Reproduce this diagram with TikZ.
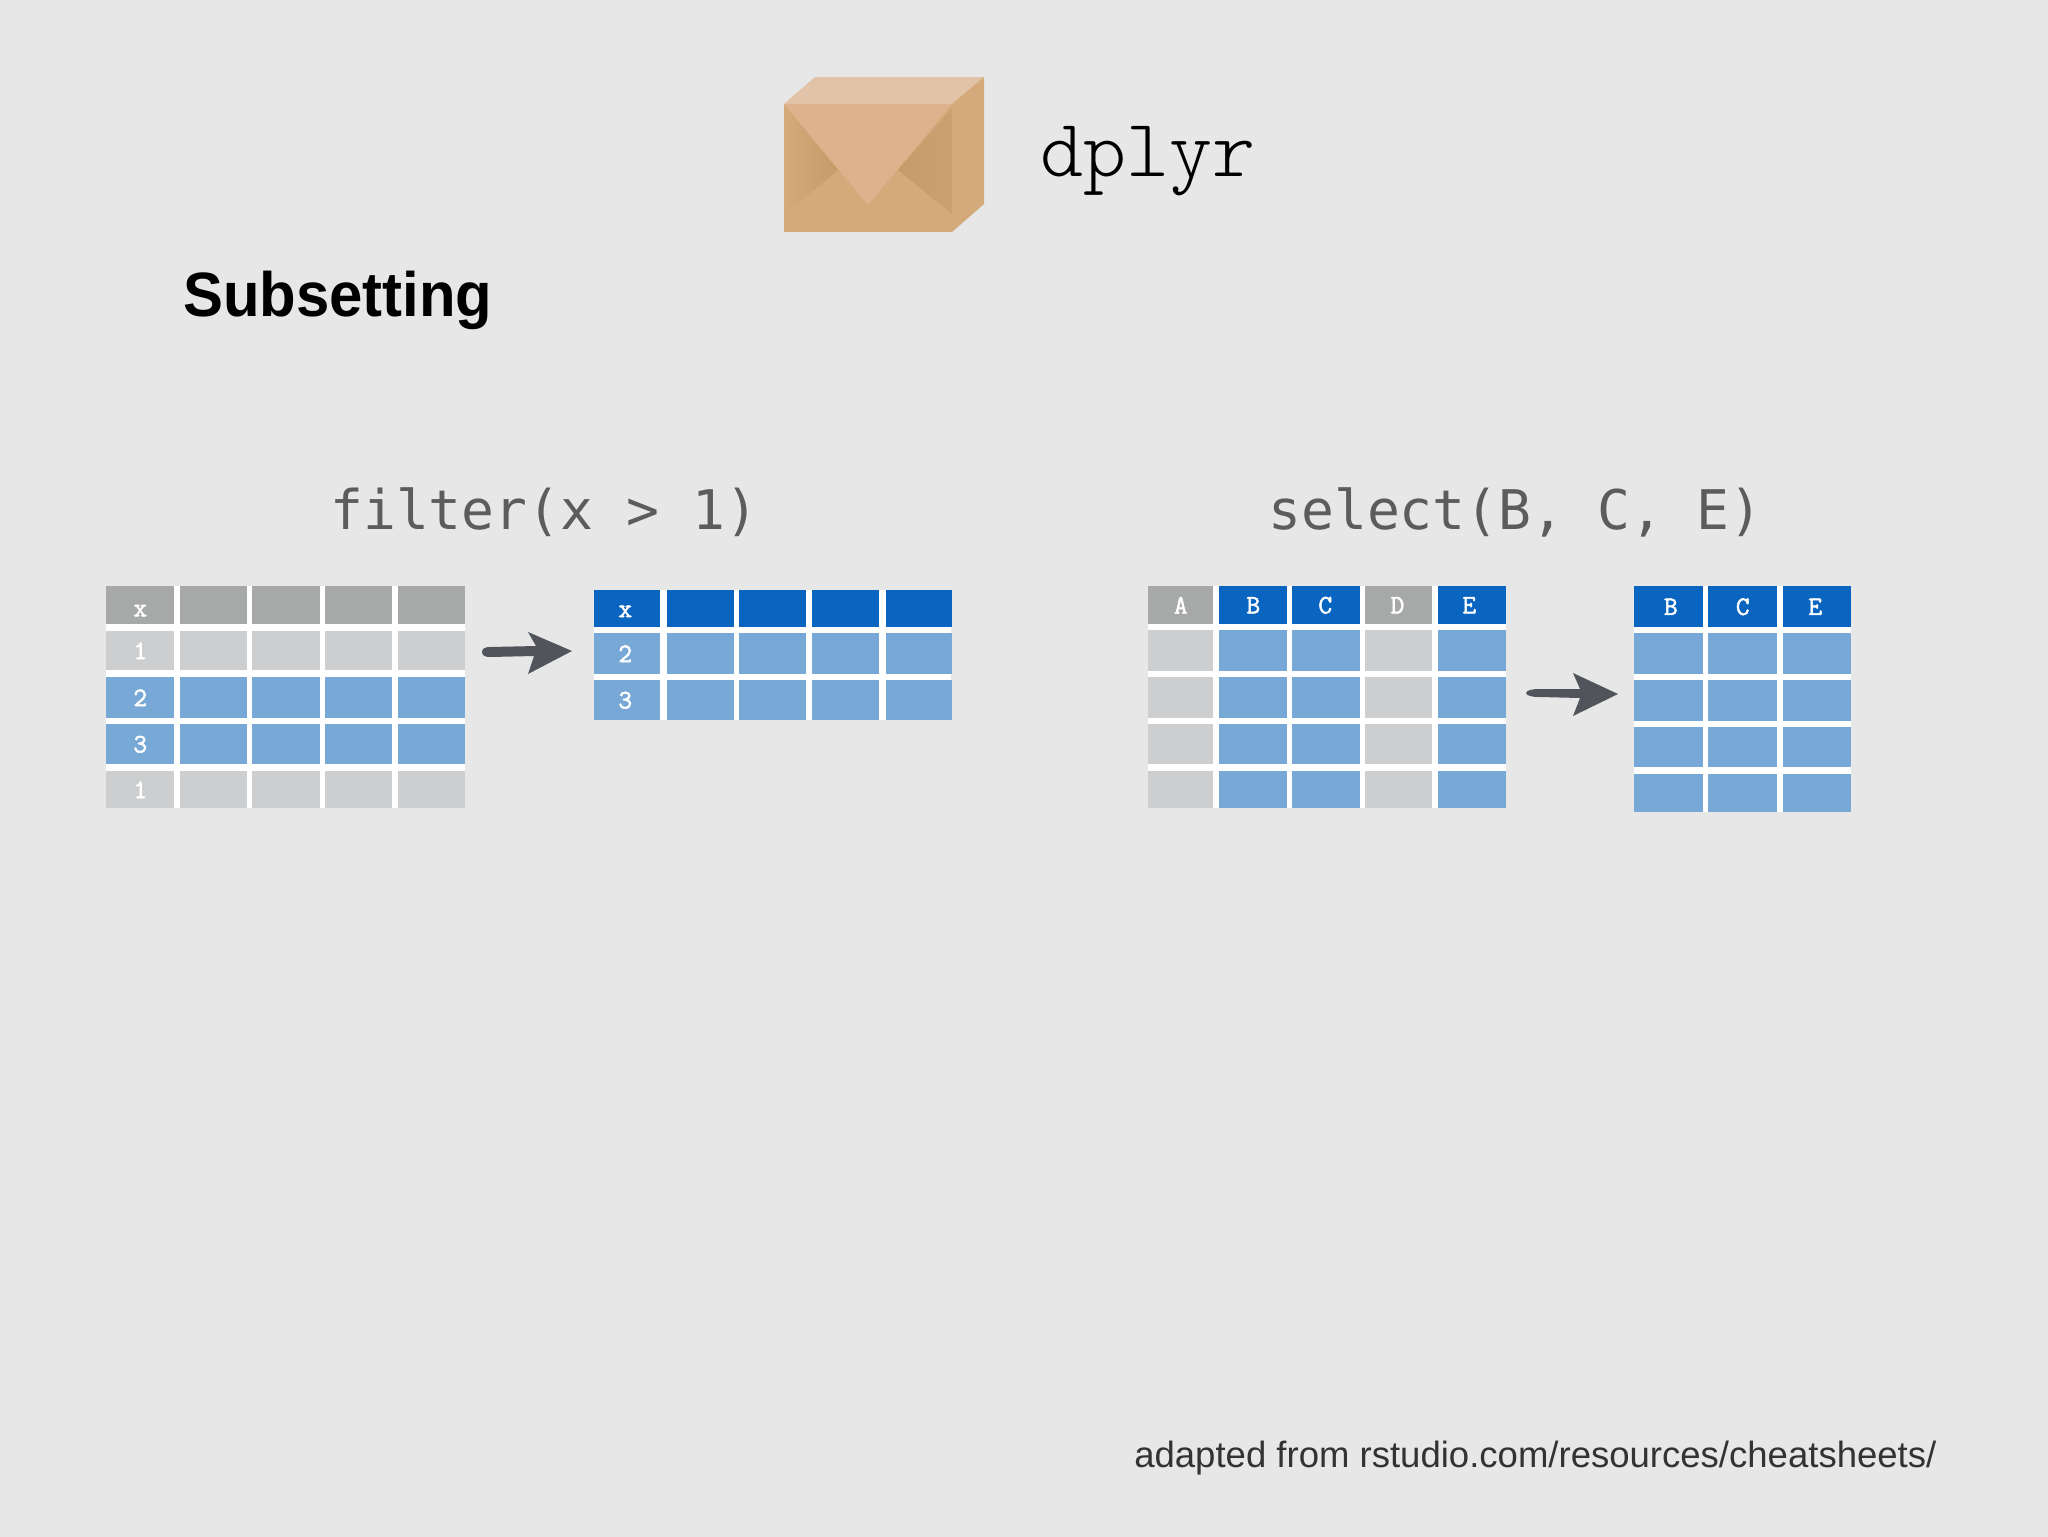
\documentclass[tikz,border=0pt]{standalone}
\usepackage{xcolor}
\usepackage{fontspec}
\setmainfont{Liberation Sans}
\setmonofont{DejaVu Sans Mono}
\newfontfamily\headfont[FakeStretch=0.955]{Liberation Sans}
\newfontfamily\pkgfont{Latin Modern Mono Light}
\newfontfamily\cellfont[FakeBold=2]{Latin Modern Mono}
\definecolor{pagegrey}{rgb}{0.906,0.906,0.91}
\definecolor{headgrey}{rgb}{0.655,0.663,0.663}
\definecolor{cellgrey}{rgb}{0.804,0.808,0.812}
\definecolor{headblue}{rgb}{0.039,0.396,0.757}
\definecolor{cellblue}{rgb}{0.467,0.659,0.839}
\definecolor{arrowgrey}{rgb}{0.318,0.333,0.357}
\definecolor{boxbase}{RGB}{213,170,122}
\definecolor{boxdark}{RGB}{198,155,106}
\definecolor{boxmid}{RGB}{204,161,113}
\definecolor{boxflap}{RGB}{221,178,141}
\definecolor{boxtop}{RGB}{226,195,167}
\tikzset{
  cell/.style n args={3}{anchor=north west,inner sep=0pt,minimum width=#1*0.75pt,minimum height=#2*0.75pt,fill=#3},
  celltext/.style={inner sep=0pt,text=white,font=\cellfont\fontsize{20}{20}\selectfont},
  code/.style={anchor=base west,inner sep=0pt,text=black!64,font=\ttfamily\fontsize{41}{41}\selectfont},
}
\begin{document}
\begin{tikzpicture}[x=0.75pt,y=0.75pt,yscale=-1,xscale=1]
\useasboundingbox (0,0) rectangle (2048,1536);
\fill [pagegrey] (-5,-5) rectangle (2053,1541);

%Package box
\fill [boxtop] (784,104) -- (815,77) -- (984,77) -- (952,104) -- cycle;
\fill [boxbase] (784,104) -- (952,104) -- (952,232) -- (784,232) -- cycle;
\fill [boxbase] (952,104) -- (984,77) -- (984,204) -- (952,232) -- cycle;
\shade [left color=boxbase,right color=boxdark] (784,104) -- (838,170) -- (784,215) -- cycle;
\shade [left color=boxdark,right color=boxmid] (898,170) -- (952,108) -- (952,214) -- cycle;
\fill [boxflap] (784,104) -- (952,104) -- (868,205) -- cycle;

%filter, first table
\fill [white] (106,586) rectangle (465,808);
\foreach \x/\w [count=\c] in {106/68,180/67,252/68,325/67,398/67}{
  \foreach \y/\h/\col [count=\r] in {586/38/headgrey,631/39/cellgrey,677/41/cellblue,724/40/cellblue,771/37/cellgrey}{
    \node (filterleft\r\c) [cell={\w}{\h}{\col}] at (\x,\y) {};
  }
}
\node [celltext] at ([yshift=4pt]filterleft11) {x};
\node [celltext] at (filterleft21) {1};
\node [celltext] at (filterleft31) {2};
\node [celltext] at (filterleft41) {3};
\node [celltext] at (filterleft51) {1};

%filter, second table
\fill [white] (594,590) rectangle (951,720);
\foreach \x/\w [count=\c] in {594/66,667/67,739/67,812/67,886/66}{
  \foreach \y/\h/\col [count=\r] in {590/37/headblue,633/41/cellblue,680/40/cellblue}{
    \node (filterright\r\c) [cell={\w}{\h}{\col}] at (\x,\y) {};
  }
}
\node [celltext] at ([xshift=-1.5pt,yshift=2pt]filterright11) {x};
\node [celltext] at ([xshift=-1.5pt]filterright21) {2};
\node [celltext] at ([xshift=-1.5pt]filterright31) {3};

%select, first table
\fill [white] (1148,586) rectangle (1506,808);
\foreach \x/\w/\hcol/\col [count=\c] in {1148/65/headgrey/cellgrey,1219/68/headblue/cellblue,1292/68/headblue/cellblue,1365/67/headgrey/cellgrey,1438/68/headblue/cellblue}{
  \node (selectleft1\c) [cell={\w}{38}{\hcol}] at (\x,586) {};
  \foreach \y/\h [count=\r from 2] in {630/41,677/41,724/40,771/37}{
    \node (selectleft\r\c) [cell={\w}{\h}{\col}] at (\x,\y) {};
  }
}
\node [celltext] at (selectleft11) {A};
\node [celltext] at (selectleft12) {B};
\node [celltext] at ([xshift=-0.75pt]selectleft13) {C};
\node [celltext] at ([xshift=-1pt]selectleft14) {D};
\node [celltext] at ([xshift=-2.25pt]selectleft15) {E};

%select, second table
\fill [white] (1634,586) rectangle (1851,812);
\foreach \x/\w [count=\c] in {1634/69,1708/69,1783/68}{
  \node (selectright1\c) [cell={\w}{41}{headblue}] at (\x,586) {};
  \foreach \y/\h [count=\r from 2] in {633/41,680/41,727/40,774/38}{
    \node (selectright\r\c) [cell={\w}{\h}{cellblue}] at (\x,\y) {};
  }
}
\node [celltext] at ([xshift=1.5pt]selectright11) {B};
\node [celltext] at (selectright12) {C};
\node [celltext] at ([xshift=-1.5pt]selectright13) {E};

%Arrows
\fill [arrowgrey] (482,652) .. controls (482,648) and (486,647) .. (490,647) -- (536,646) -- (528,632) -- (572,651) -- (528,674) -- (534,656) -- (490,657) .. controls (486,657) and (482,656) .. (482,652) -- cycle;
\fill [arrowgrey] (1526,693) .. controls (1527,690) and (1532,689) .. (1540,689) -- (1580,689) -- (1573,673) -- (1618,694) -- (1573,716) -- (1580,698) -- (1540,697) .. controls (1532,697) and (1527,696) .. (1526,693) -- cycle;

% Text Node
\node (pkgname) [anchor=base west,inner sep=0pt,font=\pkgfont\fontsize{61.5}{61.5}\selectfont] at (1040,176) {dplyr};
% Text Node
\node (heading) [anchor=base west,inner sep=0pt,font=\headfont\bfseries\fontsize{47}{47}\selectfont] at (183,316) {Subsetting};
% Text Node
\node (filtercode) [code] at (330,529) {filter(x > 1)};
% Text Node
\node (selectcode) [code] at (1268,529) {select(B, C, E)};
% Text Node
\node (source) [anchor=base west,inner sep=0pt,text=black!80,font=\fontsize{27.4}{27.4}\selectfont] at (1134,1467) {adapted from rstudio.com/resources/cheatsheets/};

\end{tikzpicture}
\end{document}
